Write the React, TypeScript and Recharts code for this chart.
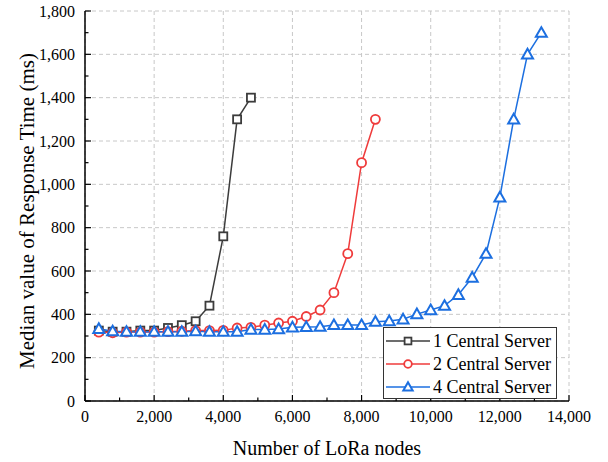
import { LineChart, Line, XAxis, YAxis, CartesianGrid, Legend } from "recharts";

const nodeCounts = [
  400, 800, 1200, 1600, 2000, 2400, 2800, 3200, 3600, 4000, 4400, 4800, 5200, 5600, 6000, 6400, 6800,
  7200, 7600, 8000, 8400, 8800, 9200, 9600, 10000, 10400, 10800, 11200, 11600, 12000, 12400, 12800, 13200,
];
const oneServer = [325, 320, 320, 325, 325, 337, 350, 368, 440, 760, 1300, 1400];
const twoServers = [
  318, 315, 318, 318, 318, 320, 322, 325, 325, 326, 337, 340, 350, 360, 368, 390, 420, 500, 680, 1100, 1300,
];
const fourServers = [
  333, 322, 320, 320, 320, 320, 320, 322, 320, 320, 320, 330, 330, 332, 340, 342, 343, 351, 351, 351, 366,
  369, 377, 401, 420, 440, 490, 570, 680, 940, 1300, 1600, 1700,
];

const xTicks = [0, 1000, 2000, 3000, 4000, 5000, 6000, 7000, 8000, 9000, 10000, 11000, 12000, 13000, 14000];
const xMajor = [0, 2000, 4000, 6000, 8000, 10000, 12000, 14000];
const yTicks = [
  0, 100, 200, 300, 400, 500, 600, 700, 800, 900, 1000, 1100, 1200, 1300, 1400, 1500, 1600, 1700, 1800,
];
const yMajor = [0, 200, 400, 600, 800, 1000, 1200, 1400, 1600, 1800];

const seriesList = [
  { key: "one", name: "1 Central Server", color: "#3c3c3c", shape: "square" },
  { key: "two", name: "2 Central Server", color: "#ef3b3b", shape: "circle" },
  { key: "four", name: "4 Central Server", color: "#1c6fe0", shape: "triangle" },
];

const rows = nodeCounts.map((n, i) => ({
  nodes: n,
  one: oneServer[i],
  two: twoServers[i],
  four: fourServers[i],
}));

const FONT = "Liberation Serif, Times New Roman, serif";
const txt = { fontFamily: FONT, fill: "#000" };
const fmt = (v: number) => v.toLocaleString("en-US");
const isMajorX = (v: number) => v % 2000 === 0;
const isMajorY = (v: number) => v % 200 === 0;

function Marker({ shape, cx, cy, color, s = 1 }: any) {
  if (shape === "square") {
    const h = 4 * s;
    return <rect x={cx - h} y={cy - h} width={2 * h} height={2 * h} fill="#fff" stroke={color} strokeWidth={1.8} />;
  }
  if (shape === "circle") {
    return <circle cx={cx} cy={cy} r={4.5 * s} fill="#fff" stroke={color} strokeWidth={1.8} />;
  }
  const w = 5.5 * s;
  return (
    <polygon
      points={`${cx},${cy - w} ${cx - w},${cy + w * 0.75} ${cx + w},${cy + w * 0.75}`}
      fill="#fff"
      stroke={color}
      strokeWidth={2}
    />
  );
}

const makeDot = (shape: string, color: string) => (props: any) => {
  const { cx, cy, index } = props;
  if (cx == null || cy == null || props.value == null) return <g key={`d-${shape}-${index}`} />;
  return (
    <g key={`d-${shape}-${index}`}>
      <Marker shape={shape} cx={cx} cy={cy} color={color} />
    </g>
  );
};

function BottomTick({ x, y, payload }: any) {
  const major = isMajorX(payload.value);
  return (
    <g>
      <line x1={x} x2={x} y1={y} y2={y - (major ? 6 : 3.5)} stroke="#000" strokeWidth={1.2} />
      {major && (
        <text x={x} y={y + 21} textAnchor="middle" style={{ ...txt, fontSize: 16 }}>
          {fmt(payload.value)}
        </text>
      )}
    </g>
  );
}

function TopTick({ x, y, payload }: any) {
  const major = isMajorX(payload.value);
  return <line x1={x} x2={x} y1={y} y2={y + (major ? 6 : 3.5)} stroke="#000" strokeWidth={1.2} />;
}

function LeftTick({ x, y, payload }: any) {
  const major = isMajorY(payload.value);
  return (
    <g>
      <line x1={x} x2={x + (major ? 6 : 3.5)} y1={y} y2={y} stroke="#000" strokeWidth={1.2} />
      {major && (
        <text x={x - 10} y={y} dy="0.35em" textAnchor="end" style={{ ...txt, fontSize: 16 }}>
          {fmt(payload.value)}
        </text>
      )}
    </g>
  );
}

function RightTick({ x, y, payload }: any) {
  const major = isMajorY(payload.value);
  return <line x1={x} x2={x - (major ? 6 : 3.5)} y1={y} y2={y} stroke="#000" strokeWidth={1.2} />;
}

function YTitle({ viewBox }: any) {
  const cx = viewBox.x + 34;
  const cy = viewBox.y + viewBox.height / 2 + 5;
  return (
    <text
      x={cx}
      y={cy}
      textAnchor="middle"
      textLength={316}
      lengthAdjust="spacingAndGlyphs"
      transform={`rotate(-90, ${cx}, ${cy})`}
      style={{ ...txt, fontSize: 21 }}
    >
      Median value of Response Time (ms)
    </text>
  );
}

function XTitle({ viewBox }: any) {
  const cx = viewBox.x + viewBox.width / 2;
  return (
    <text x={cx} y={455} textAnchor="middle" style={{ ...txt, fontSize: 20 }}>
      Number of LoRa nodes
    </text>
  );
}

function LegendBox() {
  return (
    <div
      style={{
        boxSizing: "border-box",
        width: 174,
        height: 72,
        border: "1px solid #333",
        background: "#fff",
        paddingTop: 1,
        fontFamily: FONT,
        fontSize: 18,
        color: "#000",
      }}
    >
      {seriesList.map((s) => (
        <div key={s.key} style={{ display: "flex", alignItems: "center", height: 23 }}>
          <svg width={48} height={20} style={{ marginLeft: 1 }}>
            <line x1={1} x2={45} y1={10} y2={10} stroke={s.color} strokeWidth={1.5} />
            <Marker shape={s.shape} cx={23} cy={10} color={s.color} s={0.85} />
          </svg>
          <span style={{ lineHeight: "20px", whiteSpace: "nowrap" }}>{s.name}</span>
        </div>
      ))}
    </div>
  );
}

export default function App() {
  return (
    <div style={{ position: "absolute", left: 0, top: 0, background: "#fff" }}>
      <LineChart width={608} height={462} data={rows} margin={{ top: 11, right: 39, bottom: 0, left: 0 }}>
        <CartesianGrid
          stroke="#c8c8c8"
          strokeDasharray="4 3"
          verticalValues={xMajor}
          horizontalValues={yMajor}
        />
        <XAxis
          dataKey="nodes"
          type="number"
          domain={[0, 14000]}
          ticks={xTicks}
          interval={0}
          allowDataOverflow
          height={61}
          tickSize={0}
          tickMargin={0}
          tickLine={false}
          tick={<BottomTick />}
          axisLine={{ stroke: "#000", strokeWidth: 1.5 }}
          label={{ content: <XTitle /> }}
        />
        <XAxis
          xAxisId="top"
          orientation="top"
          type="number"
          domain={[0, 14000]}
          ticks={xTicks}
          interval={0}
          allowDataOverflow
          height={0}
          tickSize={0}
          tickMargin={0}
          tickLine={false}
          tick={<TopTick />}
          axisLine={{ stroke: "#000", strokeWidth: 1.5 }}
        />
        <YAxis
          type="number"
          domain={[0, 1800]}
          ticks={yTicks}
          interval={0}
          allowDataOverflow
          width={85}
          tickSize={0}
          tickMargin={0}
          tickLine={false}
          tick={<LeftTick />}
          axisLine={{ stroke: "#000", strokeWidth: 1.5 }}
          label={{ content: <YTitle /> }}
        />
        <YAxis
          yAxisId="right"
          orientation="right"
          type="number"
          domain={[0, 1800]}
          ticks={yTicks}
          interval={0}
          allowDataOverflow
          width={0}
          tickSize={0}
          tickMargin={0}
          tickLine={false}
          tick={<RightTick />}
          axisLine={{ stroke: "#000", strokeWidth: 1.5 }}
        />
        <Legend
          layout="horizontal"
          verticalAlign="middle"
          align="center"
          wrapperStyle={{ left: 383, top: 327, width: 174, height: 72 }}
          content={() => <LegendBox />}
        />
        {seriesList.map((s) => (
          <Line
            key={s.key}
            type="linear"
            dataKey={s.key}
            name={s.name}
            stroke={s.color}
            strokeWidth={1.5}
            dot={makeDot(s.shape, s.color)}
            activeDot={false}
            isAnimationActive={false}
          />
        ))}
      </LineChart>
    </div>
  );
}
